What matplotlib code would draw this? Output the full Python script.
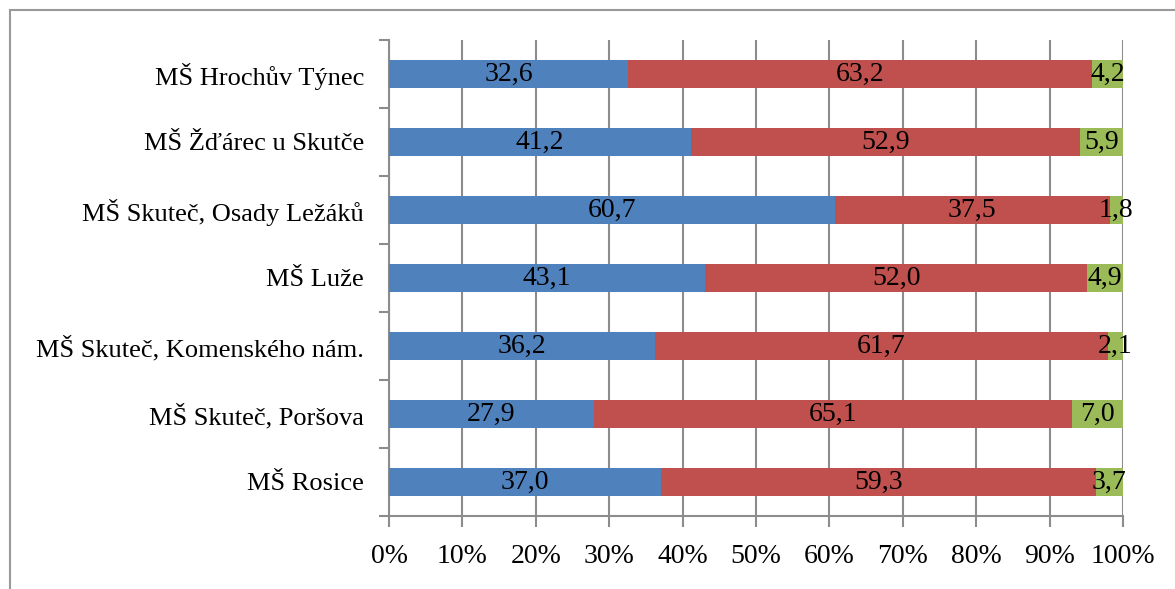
import matplotlib.pyplot as plt
from matplotlib.patches import Rectangle
from matplotlib.ticker import FuncFormatter

# data (percent shares), top to bottom as in the chart
schools = ['MŠ Hrochův Týnec', 'MŠ Žďárec u Skutče', 'MŠ Skuteč, Osady Ležáků',
           'MŠ Luže', 'MŠ Skuteč, Komenského nám.', 'MŠ Skuteč, Poršova', 'MŠ Rosice']
blue_vals = [32.6, 41.2, 60.7, 43.1, 36.2, 27.9, 37.0]
red_vals = [63.2, 52.9, 37.5, 52.0, 61.7, 65.1, 59.3]
green_vals = [4.2, 5.9, 1.8, 4.9, 2.1, 7.0, 3.7]

colors = ['#4F81BD', '#C0504D', '#9BBB59']
plt.rcParams['font.family'] = ['Liberation Serif', 'DejaVu Serif']
FS_CAT = 19
FS_NUM = 20

fig = plt.figure(figsize=(11.75, 5.89), dpi=100)
ax = fig.add_axes([389 / 1175, 1 - 516 / 589, (1123 - 389) / 1175, (516 - 40) / 589])

# outer chart frame (only top and left edges visible)
fig.patches.append(Rectangle((10 / 1175, -0.1), 1.2, 1 - 10 / 589 + 0.1,
                             transform=fig.transFigure, fill=False,
                             edgecolor='#999999', linewidth=1.5))

y = list(range(len(schools)))[::-1]
left = [0] * len(schools)
for vals, col in zip([blue_vals, red_vals, green_vals], colors):
    ax.barh(y, vals, left=left, height=0.4, color=col, zorder=3)
    for yi, l, v in zip(y, left, vals):
        ax.text(l + v / 2, yi, f'{v:.1f}'.replace('.', ','), ha='center', va='center',
                fontsize=FS_NUM, color='black', zorder=4)
    left = [a + b for a, b in zip(left, vals)]

ax.set_xlim(0, 100)
ax.set_ylim(-0.5, len(schools) - 0.5)
ax.set_xticks(range(0, 101, 10))
ax.xaxis.set_major_formatter(FuncFormatter(lambda v, p: f'{int(v)}%'))
ax.set_yticks(y)
ax.set_yticklabels(schools)
ax.set_yticks([i - 0.5 for i in range(len(schools) + 1)], minor=True)
ax.tick_params(axis='y', which='major', length=0, pad=18, labelsize=FS_CAT)
ax.tick_params(axis='y', which='minor', length=7, width=1.5, color='#8C8C8C')
ax.tick_params(axis='x', length=8, width=1.5, color='#8C8C8C', labelsize=FS_NUM, pad=12)
ax.grid(axis='x', color='#8C8C8C', linewidth=1.5, zorder=0)
for s in ['top', 'right']:
    ax.spines[s].set_visible(False)
for s in ['left', 'bottom']:
    ax.spines[s].set_color('#8C8C8C')
    ax.spines[s].set_linewidth(1.5)

fig.savefig('out.png', dpi=100)
